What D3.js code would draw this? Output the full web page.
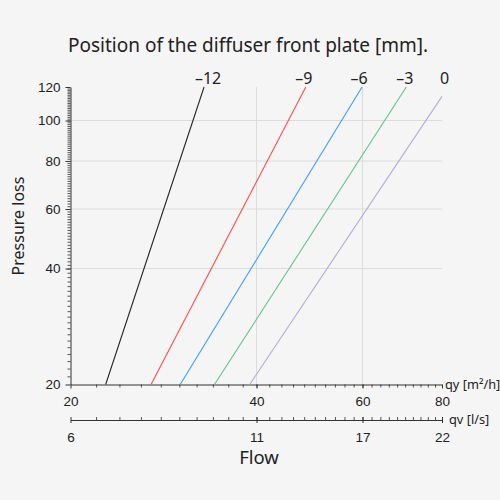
<!DOCTYPE html>
<html>
<head>
<meta charset="utf-8">
<script src="https://cdn.jsdelivr.net/npm/d3@7"></script>
<style>
  body { margin: 0; background: #f5f5f5; }
  svg { display: block; font-family: "Noto Sans", sans-serif; }
</style>
</head>
<body>
<div id="chart"></div>
<script>
// Series: diffuser front plate position
var positions = ["–12", "–9", "–6", "–3", "0"];
var lineColors = ["#262626", "#ff4b4b", "#3d9bff", "#62c18c", "#b5a9dd"];
// flow qy [m3/h] at the low end (20 Pa) and the high end of each line
var qyStart = [22.8, 27.0, 30.1, 34.2, 39.0];
var qyEnd = [32.9, 48.3, 59.9, 70.3, 80];
var pStart = [20, 20, 20, 20, 20];
var pEnd = [120, 120, 120, 120, 114];

// Axis ticks
var yTicks = [20, 40, 60, 80, 100, 120];
var yMinorTicks = d3.range(21, 120);
var xTicks = [20, 40, 60, 80];
var xMinorTicks = d3.range(22, 80, 2);
var qvLabels = ["6", "11", "17", "22"];

var width = 500, height = 500;
var textColor = "#222";

var svg = d3.select("#chart").append("svg")
  .attr("width", width)
  .attr("height", height);

// Scales (piecewise log, as the printed diagram)
var x = d3.scaleLog()
  .domain(xTicks)
  .range([70.5, 256.5, 362.5, 442]);

var y = d3.scaleLog()
  .domain(yTicks)
  .range([384.5, 268.5, 209, 161, 120.5, 87]);

// Grid lines
svg.append("g")
  .selectAll("line")
  .data([40, 60, 80, 100])
  .enter().append("line")
  .attr("x1", x(20)).attr("x2", x(80))
  .attr("y1", function (d) { return y(d); })
  .attr("y2", function (d) { return y(d); })
  .attr("stroke", "#dcdcdc");

svg.append("g")
  .selectAll("line")
  .data([40, 60])
  .enter().append("line")
  .attr("x1", function (d) { return x(d); })
  .attr("x2", function (d) { return x(d); })
  .attr("y1", y(20)).attr("y2", y(120))
  .attr("stroke", "#dcdcdc");

// Y axis
var yMinor = svg.append("g")
  .attr("class", "minor")
  .attr("transform", "translate(" + x(20) + ",0)")
  .call(d3.axisLeft(y).tickValues(yMinorTicks).tickSize(3).tickFormat(""));
yMinor.select(".domain").remove();

var yAxis = svg.append("g")
  .attr("transform", "translate(" + x(20) + ",0)")
  .call(d3.axisLeft(y).tickValues(yTicks).tickSize(5).tickSizeOuter(0)
    .tickPadding(5).tickFormat(d3.format("d")));

// X axis (qy)
var xMinor = svg.append("g")
  .attr("class", "minor")
  .attr("transform", "translate(0," + y(20) + ")")
  .call(d3.axisBottom(x).tickValues(xMinorTicks).tickSize(3).tickFormat(""));
xMinor.select(".domain").remove();

var xAxis = svg.append("g")
  .attr("transform", "translate(0," + y(20) + ")")
  .call(d3.axisBottom(x).tickValues(xTicks).tickSize(4).tickSizeOuter(0)
    .tickPadding(8).tickFormat(d3.format("d")));

// Second X axis (qv)
var qvY = 420;
var qvMinor = svg.append("g")
  .attr("class", "minor")
  .attr("transform", "translate(0," + qvY + ")")
  .call(d3.axisTop(x).tickValues(xMinorTicks).tickSize(3).tickFormat(""));
qvMinor.select(".domain").remove();

var qvAxis = svg.append("g")
  .attr("transform", "translate(0," + qvY + ")")
  .call(d3.axisBottom(x).tickValues(xTicks).tickSize(3).tickSizeOuter(0)
    .tickPadding(9).tickFormat(function (d, i) { return qvLabels[i]; }));
svg.append("g")
  .attr("transform", "translate(0," + qvY + ")")
  .call(d3.axisTop(x).tickValues(xTicks).tickSize(3).tickFormat(""))
  .select(".domain").remove();

// Axis styling
svg.selectAll(".tick text")
  .attr("font-size", 13.5)
  .attr("fill", textColor);
svg.selectAll(".domain, .tick line")
  .attr("stroke", "#333");
svg.selectAll(".minor .tick line")
  .attr("stroke", "#555");

// Lines
svg.append("g")
  .selectAll("line")
  .data(positions)
  .enter().append("line")
  .attr("x1", function (d, i) { return x(qyStart[i]); })
  .attr("y1", function (d, i) { return y(pStart[i]); })
  .attr("x2", function (d, i) { return x(qyEnd[i]); })
  .attr("y2", function (d, i) { return y(pEnd[i]); })
  .attr("stroke", function (d, i) { return lineColors[i]; })
  .attr("stroke-width", 1.1);

// Line labels
var labelShift = [4, -2, -3, -1.5, 2.5];
svg.append("g")
  .selectAll("text")
  .data(positions)
  .enter().append("text")
  .attr("x", function (d, i) { return x(qyEnd[i]) + labelShift[i]; })
  .attr("y", 84)
  .attr("text-anchor", "middle")
  .attr("font-size", 16)
  .attr("fill", textColor)
  .text(function (d) { return d; });

// Axis unit labels
svg.append("text")
  .attr("x", 445).attr("y", y(20))
  .attr("dy", "0.35em")
  .attr("font-size", 12.8)
  .attr("fill", textColor)
  .text("qy [m²/h]");

svg.append("text")
  .attr("x", 449).attr("y", qvY)
  .attr("dy", "0.35em")
  .attr("font-size", 12.8)
  .attr("fill", textColor)
  .text("qv [l/s]");

// Titles
svg.append("text")
  .attr("x", 248).attr("y", 52)
  .attr("text-anchor", "middle")
  .attr("font-size", 19)
  .attr("fill", textColor)
  .text("Position of the diffuser front plate [mm].");

svg.append("text")
  .attr("x", 259).attr("y", 464)
  .attr("text-anchor", "middle")
  .attr("font-size", 18.5)
  .attr("fill", textColor)
  .text("Flow");

svg.append("text")
  .attr("transform", "translate(24,226) rotate(-90)")
  .attr("text-anchor", "middle")
  .attr("font-size", 16)
  .attr("fill", textColor)
  .text("Pressure loss");
</script>
</body>
</html>
